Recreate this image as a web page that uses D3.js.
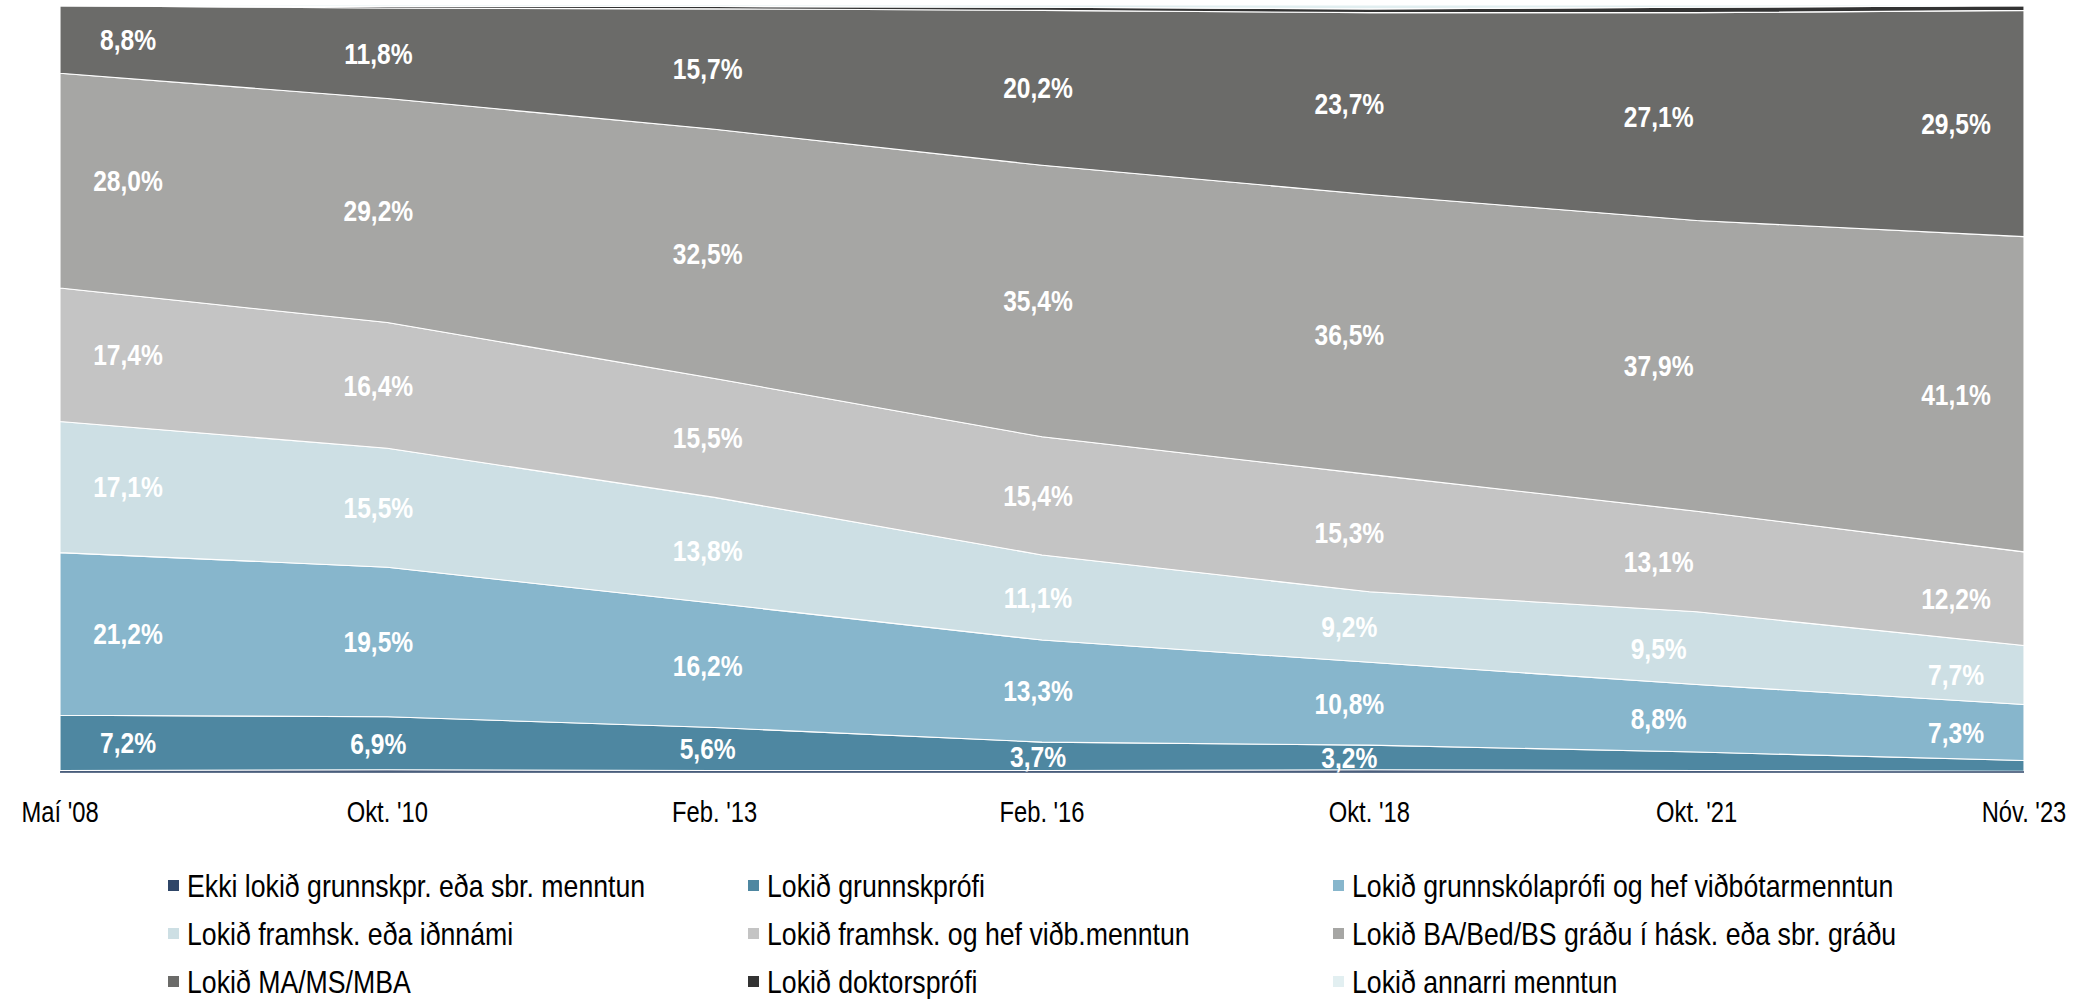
<!DOCTYPE html>
<html>
<head>
<meta charset="utf-8">
<script src="https://cdn.jsdelivr.net/npm/d3@7"></script>
<style>
  html, body { margin: 0; padding: 0; background: #fff; }
  svg { display: block; }
</style>
</head>
<body>
<svg id="chart" width="2090" height="999"></svg>
<script>
// Menntun (% of total) per survey period, stacked bottom -> top
const periods = ["Maí '08", "Okt. '10", "Feb. '13", "Feb. '16", "Okt. '18", "Okt. '21", "Nóv. '23"];

const ekki        = [0.2, 0.3, 0.2, 0.2, 0.3, 0.2, 0.1];
const grunnsk     = [7.2, 6.9, 5.6, 3.7, 3.2, 2.4, 1.4];
const grunnskVidb = [21.2, 19.5, 16.2, 13.3, 10.8, 8.8, 7.3];
const framhsk     = [17.1, 15.5, 13.8, 11.1, 9.2, 9.5, 7.7];
const framhskVidb = [17.4, 16.4, 15.5, 15.4, 15.3, 13.1, 12.2];
const ba          = [28.0, 29.2, 32.5, 35.4, 36.5, 37.9, 41.1];
const ma          = [8.8, 11.8, 15.7, 20.2, 23.7, 27.1, 29.5];
const doktor      = [0.0, 0.2, 0.3, 0.4, 0.5, 0.7, 0.6];
const annarri     = [0.1, 0.2, 0.2, 0.3, 0.5, 0.3, 0.1];

const seriesKeys = ["ekki", "grunnsk", "grunnskVidb", "framhsk", "framhskVidb", "ba", "ma", "doktor", "annarri"];
const seriesValues = [ekki, grunnsk, grunnskVidb, framhsk, framhskVidb, ba, ma, doktor, annarri];
const seriesNames = [
  "Ekki lokið grunnskpr. eða sbr. menntun",
  "Lokið grunnskprófi",
  "Lokið grunnskólaprófi og hef viðbótarmenntun",
  "Lokið framhsk. eða iðnnámi",
  "Lokið framhsk. og hef viðb.menntun",
  "Lokið BA/Bed/BS gráðu í hásk. eða sbr. gráðu",
  "Lokið MA/MS/MBA",
  "Lokið doktorsprófi",
  "Lokið annarri menntun"
];
const seriesColors = ["#2f4668", "#4e87a1", "#87b6cc", "#cddfe4", "#c4c4c4", "#a6a6a4", "#6b6b69", "#333333", "#e2eff1"];
const labelled = ["grunnsk", "grunnskVidb", "framhsk", "framhskVidb", "ba", "ma"];

// horizontal nudge of the data labels per period (layout, px)
const labelDx = [68, -9, -7, -4, -20, -38, -68];

// pick a condensed face if one is installed, otherwise squeeze Liberation Sans
function hasFont(name) {
  const c = document.createElement("canvas").getContext("2d");
  const probe = "Okt. '10 MWim 8,8%";
  c.font = "40px monospace";
  const w0 = c.measureText(probe).width;
  c.font = `40px '${name}', monospace`;
  return c.measureText(probe).width !== w0;
}
const narrow = hasFont("Liberation Sans Narrow")
  ? { family: "'Liberation Sans Narrow', 'Arial Narrow', sans-serif", sx: 1 }
  : { family: "'Liberation Sans', Arial, sans-serif", sx: 0.82 };

const W = 2090, H = 999;
const margin = { top: 5, right: 66, bottom: 227, left: 60 };
const innerW = W - margin.left - margin.right;
const innerH = H - margin.top - margin.bottom;

const rows = periods.map((p, i) => {
  const r = { period: p };
  seriesKeys.forEach((k, j) => { r[k] = seriesValues[j][i]; });
  return r;
});

const x = d3.scalePoint().domain(periods).range([0, innerW]);
const y = d3.scaleLinear().domain([0, 100]).range([innerH, 0]);
const stacked = d3.stack().keys(seriesKeys)(rows);

const svg = d3.select("#chart");
const root = svg.append("g").attr("transform", `translate(${margin.left},${margin.top})`);

const area = d3.area()
  .x(d => x(d.data.period))
  .y0(d => y(d[0]))
  .y1(d => y(d[1]));

root.selectAll("path.layer").data(stacked).enter().append("path")
  .attr("class", "layer")
  .attr("d", area)
  .attr("fill", (d, i) => seriesColors[i])
  .attr("stroke", "#ffffff")
  .attr("stroke-width", 1.1)
  .attr("stroke-linejoin", "round");

// bottom rule of the chart in the darkest colour
root.append("line")
  .attr("x1", 0).attr("x2", innerW)
  .attr("y1", y(0)).attr("y2", y(0))
  .attr("stroke", seriesColors[0]).attr("stroke-width", 1.5);

function placeText(g, px, py, txt, opts) {
  const sx = narrow.sx * (opts.stretch || 1);
  return g.append("text")
    .attr("transform", `translate(${px},${py}) scale(${sx},1)`)
    .attr("text-anchor", opts.anchor || "middle")
    .attr("dominant-baseline", opts.baseline || "central")
    .attr("font-family", narrow.family)
    .attr("font-size", opts.size)
    .attr("font-weight", opts.weight || "normal")
    .attr("fill", opts.fill || "#000")
    .text(txt);
}

// data labels, nudged like the spreadsheet does
const fmt = v => v.toFixed(1).replace(".", ",") + "%";
const labelG = root.append("g");
stacked.forEach(layer => {
  if (!labelled.includes(layer.key)) return;
  layer.forEach((d, i) => {
    const v = d.data[layer.key];
    if (v < 3) return;
    placeText(labelG, x(d.data.period) + labelDx[i], y((d[0] + d[1]) / 2), fmt(v),
      { size: 30, weight: "bold", fill: "#ffffff" });
  });
});

// x-axis category labels
const axisG = root.append("g");
periods.forEach(p => {
  placeText(axisG, x(p), innerH + 40, p, { size: 29, fill: "#000" });
});

// legend, 3 columns x 3 rows
const legendCols = [168, 748, 1333];
const legendRows = [886, 934, 982];
const legendG = svg.append("g");
seriesNames.forEach((name, i) => {
  const cx = legendCols[i % 3], cy = legendRows[Math.floor(i / 3)];
  legendG.append("rect")
    .attr("x", cx).attr("y", cy - 6)
    .attr("width", 11).attr("height", 11)
    .attr("fill", seriesColors[i]);
  placeText(legendG, cx + 19, cy, name, { size: 31, anchor: "start", fill: "#000", stretch: 1.05 });
});
</script>
</body>
</html>
